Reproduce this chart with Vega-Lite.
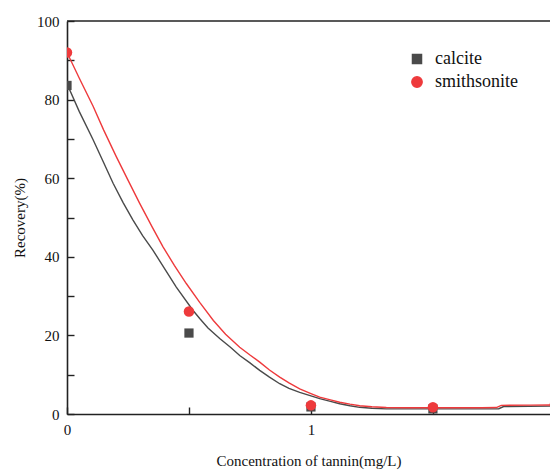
{
  "$schema": "https://vega.github.io/schema/vega-lite/v6.json",
  "width": 483,
  "height": 393,
  "autosize": "none",
  "padding": {"left": 67, "top": 21, "right": 0, "bottom": 57},
  "background": "white",
  "config": {
    "view": {"stroke": null},
    "font": "Liberation Serif",
    "axis": {
      "grid": false,
      "domainColor": "#222222",
      "domainWidth": 1.6,
      "tickColor": "#222222",
      "tickWidth": 1.4,
      "labelColor": "#111111",
      "titleColor": "#111111",
      "labelFont": "Liberation Serif",
      "titleFont": "Liberation Serif",
      "labelFontSize": 15,
      "titleFontSize": 15,
      "titleFontWeight": "normal",
      "labelFlush": false
    },
    "legend": {"labelFont": "Liberation Serif"}
  },
  "datasets": {
    "fit": [
      {"series": "calcite", "conc": 0, "rec": 84.0},
      {"series": "calcite", "conc": 0.05, "rec": 77.0},
      {"series": "calcite", "conc": 0.107, "rec": 69.8},
      {"series": "calcite", "conc": 0.15, "rec": 64.0},
      {"series": "calcite", "conc": 0.189, "rec": 58.7},
      {"series": "calcite", "conc": 0.23, "rec": 53.8},
      {"series": "calcite", "conc": 0.27, "rec": 49.4},
      {"series": "calcite", "conc": 0.31, "rec": 45.4},
      {"series": "calcite", "conc": 0.352, "rec": 41.7},
      {"series": "calcite", "conc": 0.4, "rec": 37.0},
      {"series": "calcite", "conc": 0.448, "rec": 32.3},
      {"series": "calcite", "conc": 0.516, "rec": 26.4},
      {"series": "calcite", "conc": 0.544, "rec": 24.3},
      {"series": "calcite", "conc": 0.578, "rec": 21.9},
      {"series": "calcite", "conc": 0.626, "rec": 19.2},
      {"series": "calcite", "conc": 0.67, "rec": 17.0},
      {"series": "calcite", "conc": 0.708, "rec": 14.9},
      {"series": "calcite", "conc": 0.75, "rec": 13.0},
      {"series": "calcite", "conc": 0.79, "rec": 11.1},
      {"series": "calcite", "conc": 0.83, "rec": 9.4},
      {"series": "calcite", "conc": 0.872, "rec": 7.7},
      {"series": "calcite", "conc": 0.91, "rec": 6.5},
      {"series": "calcite", "conc": 0.954, "rec": 5.5},
      {"series": "calcite", "conc": 1.0, "rec": 4.6},
      {"series": "calcite", "conc": 1.036, "rec": 3.9},
      {"series": "calcite", "conc": 1.08, "rec": 3.2},
      {"series": "calcite", "conc": 1.118, "rec": 2.6},
      {"series": "calcite", "conc": 1.16, "rec": 2.1},
      {"series": "calcite", "conc": 1.2, "rec": 1.7},
      {"series": "calcite", "conc": 1.25, "rec": 1.45},
      {"series": "calcite", "conc": 1.309, "rec": 1.3},
      {"series": "calcite", "conc": 1.4, "rec": 1.3},
      {"series": "calcite", "conc": 1.5, "rec": 1.3},
      {"series": "calcite", "conc": 1.6, "rec": 1.3},
      {"series": "calcite", "conc": 1.7, "rec": 1.3},
      {"series": "calcite", "conc": 1.77, "rec": 1.35},
      {"series": "calcite", "conc": 1.79, "rec": 1.9},
      {"series": "calcite", "conc": 1.98, "rec": 2.0},
      {"series": "smithsonite", "conc": 0, "rec": 92.0},
      {"series": "smithsonite", "conc": 0.05, "rec": 85.5},
      {"series": "smithsonite", "conc": 0.107, "rec": 78.3},
      {"series": "smithsonite", "conc": 0.15, "rec": 72.3},
      {"series": "smithsonite", "conc": 0.202, "rec": 65.5},
      {"series": "smithsonite", "conc": 0.25, "rec": 59.5},
      {"series": "smithsonite", "conc": 0.298, "rec": 53.6},
      {"series": "smithsonite", "conc": 0.35, "rec": 47.5},
      {"series": "smithsonite", "conc": 0.393, "rec": 42.6},
      {"series": "smithsonite", "conc": 0.44, "rec": 37.8},
      {"series": "smithsonite", "conc": 0.489, "rec": 33.2},
      {"series": "smithsonite", "conc": 0.544, "rec": 28.4},
      {"series": "smithsonite", "conc": 0.6, "rec": 23.8},
      {"series": "smithsonite", "conc": 0.65, "rec": 20.3},
      {"series": "smithsonite", "conc": 0.708, "rec": 17.0},
      {"series": "smithsonite", "conc": 0.75, "rec": 15.0},
      {"series": "smithsonite", "conc": 0.79, "rec": 13.2},
      {"series": "smithsonite", "conc": 0.83, "rec": 11.2},
      {"series": "smithsonite", "conc": 0.872, "rec": 9.4},
      {"series": "smithsonite", "conc": 0.91, "rec": 7.9},
      {"series": "smithsonite", "conc": 0.954, "rec": 6.4},
      {"series": "smithsonite", "conc": 1.0, "rec": 5.2},
      {"series": "smithsonite", "conc": 1.036, "rec": 4.3},
      {"series": "smithsonite", "conc": 1.08, "rec": 3.6},
      {"series": "smithsonite", "conc": 1.118, "rec": 3.0},
      {"series": "smithsonite", "conc": 1.16, "rec": 2.5},
      {"series": "smithsonite", "conc": 1.2, "rec": 2.1},
      {"series": "smithsonite", "conc": 1.25, "rec": 1.85},
      {"series": "smithsonite", "conc": 1.309, "rec": 1.65},
      {"series": "smithsonite", "conc": 1.4, "rec": 1.6},
      {"series": "smithsonite", "conc": 1.5, "rec": 1.6},
      {"series": "smithsonite", "conc": 1.6, "rec": 1.6},
      {"series": "smithsonite", "conc": 1.7, "rec": 1.6},
      {"series": "smithsonite", "conc": 1.76, "rec": 1.65},
      {"series": "smithsonite", "conc": 1.78, "rec": 2.2},
      {"series": "smithsonite", "conc": 1.9, "rec": 2.25},
      {"series": "smithsonite", "conc": 1.98, "rec": 2.3}
    ],
    "pts": [
      {"series": "calcite", "conc": 0, "rec": 83.6},
      {"series": "calcite", "conc": 0.5, "rec": 20.6},
      {"series": "calcite", "conc": 1, "rec": 1.8},
      {"series": "calcite", "conc": 1.5, "rec": 1.3},
      {"series": "calcite", "conc": 2, "rec": 2.0},
      {"series": "smithsonite", "conc": 0, "rec": 92.0},
      {"series": "smithsonite", "conc": 0.5, "rec": 26.1},
      {"series": "smithsonite", "conc": 1, "rec": 2.2},
      {"series": "smithsonite", "conc": 1.5, "rec": 1.7},
      {"series": "smithsonite", "conc": 2, "rec": 2.4}
    ]
  },
  "encoding": {
    "x": {
      "field": "conc", "type": "quantitative",
      "scale": {"domain": [0, 1.98], "nice": false, "zero": false},
      "axis": {
        "title": "Concentration of tannin(mg/L)",
        "values": [0, 0.5, 1, 1.5],
        "labelExpr": "datum.value % 1 === 0 ? '' + datum.value : ''",
        "labelFont": "Liberation Serif",
        "tickSize": -7,
        "labelPadding": 15,
        "titlePadding": 16,
        "encode": {"ticks": {"y2": {"condition": {"test": "datum.value % 1 === 0", "value": -7}, "value": -4}}}
      }
    },
    "y": {
      "field": "rec", "type": "quantitative",
      "scale": {"domain": [0, 100], "nice": false},
      "axis": {
        "title": "Recovery(%)",
        "values": [0, 10, 20, 30, 40, 50, 60, 70, 80, 90, 100],
        "labelExpr": "datum.value % 20 === 0 ? '' + datum.value : ''",
        "labelFont": "Liberation Serif",
        "tickSize": -7,
        "labelPadding": 15,
        "titlePadding": 9,
        "encode": {"ticks": {"x2": {"condition": {"test": "datum.value % 20 === 0", "value": 7}, "value": 3}}}
      }
    }
  },
  "layer": [
    {
      "data": {"name": "fit"},
      "mark": {"type": "line", "strokeWidth": 1.4, "clip": true},
      "encoding": {
        "color": {
          "field": "series", "type": "nominal",
          "scale": {"domain": ["calcite", "smithsonite"], "range": ["#4a4a4a", "#ee3a3c"]}
        }
      }
    },
    {
      "data": {"name": "pts"},
      "mark": {"type": "point", "filled": true, "opacity": 1, "clip": true},
      "encoding": {
        "color": {
          "field": "series", "type": "nominal",
          "legend": {
            "title": null,
            "orient": "none",
            "legendX": 341,
            "legendY": 29,
            "padding": 0,
            "symbolSize": 100,
            "symbolStrokeWidth": 1.3,
            "labelOffset": 9,
            "labelFontSize": 18,
            "labelFont": "Liberation Serif",
            "labelColor": "#111111",
            "rowPadding": 5
          }
        },
        "shape": {
          "field": "series", "type": "nominal",
          "scale": {"domain": ["calcite", "smithsonite"], "range": ["square", "circle"]}
        },
        "size": {
          "field": "series", "type": "nominal",
          "scale": {"domain": ["calcite", "smithsonite"], "range": [85, 110]},
          "legend": null
        }
      }
    },
    {
      "data": {"values": [{"top": 100}]},
      "mark": {"type": "rule", "color": "#222222", "strokeWidth": 1.6},
      "encoding": {
        "x": null,
        "y": {"field": "top", "type": "quantitative"}
      }
    }
  ]
}
